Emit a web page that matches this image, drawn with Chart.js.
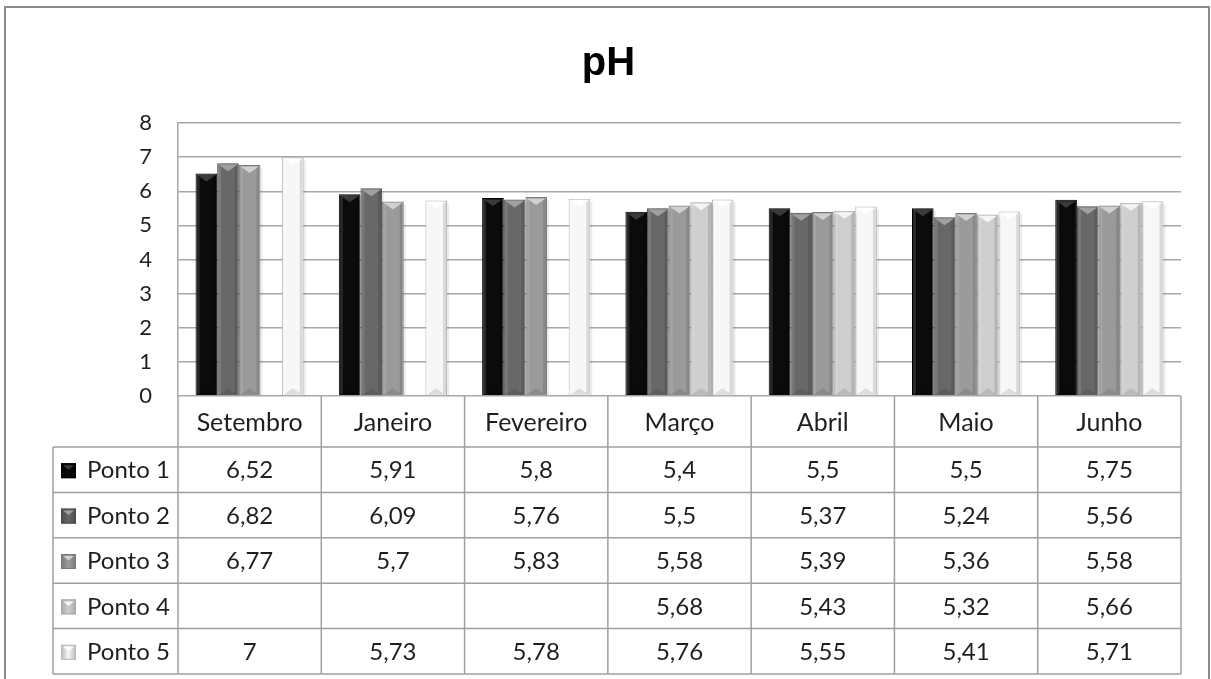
<!DOCTYPE html>
<html>
<head>
<meta charset="utf-8">
<script src="https://cdn.jsdelivr.net/npm/chart.js@4/dist/chart.umd.min.js"></script>
<style>
  html, body { margin: 0; padding: 0; background: #ffffff; }
  #wrap { position: relative; width: 1211px; height: 679px; }
</style>
</head>
<body>
<div id="wrap"><canvas id="c"></canvas></div>
<script>
// ---- data ----
const categories = ['Setembro', 'Janeiro', 'Fevereiro', 'Março', 'Abril', 'Maio', 'Junho'];
const seriesNames = ['Ponto 1', 'Ponto 2', 'Ponto 3', 'Ponto 4', 'Ponto 5'];
const ponto1 = [6.52, 5.91, 5.8, 5.4, 5.5, 5.5, 5.75];
const ponto2 = [6.82, 6.09, 5.76, 5.5, 5.37, 5.24, 5.56];
const ponto3 = [6.77, 5.7, 5.83, 5.58, 5.39, 5.36, 5.58];
const ponto4 = [null, null, null, 5.68, 5.43, 5.32, 5.66];
const ponto5 = [7, 5.73, 5.78, 5.76, 5.55, 5.41, 5.71];
const yTickValues = [0, 1, 2, 3, 4, 5, 6, 7, 8];
const titleText = 'pH';

// ---- styles ----
const fills   = ['#0b0b0b', '#686868', '#9a9a9a', '#cfcfcf', '#f7f7f7'];
const borders = ['#000000', '#4a4a4a', '#7a7a7a', '#a8a8a8', '#b8b8b8'];
const tris    = ['#3a3a3a', '#a0a0a0', '#d0d0d0', '#f4f4f4', '#ffffff'];
const textFont = 'Lato, "Open Sans", sans-serif';
const gridColor = '#a8a8a8';

const allSeries = [ponto1, ponto2, ponto3, ponto4, ponto5];

const fmt = v => (v === null || v === undefined) ? '' : String(v).replace('.', ',');

const chrome = {
  id: 'chrome',
  beforeDraw(chart) {
    const ctx = chart.ctx;
    ctx.save();
    ctx.fillStyle = '#ffffff';
    ctx.fillRect(0, 0, chart.width, chart.height);
    ctx.restore();
  },
  afterDatasetsDraw(chart) {
    const ctx = chart.ctx;
    ctx.save();
    chart.data.datasets.forEach((ds, di) => {
      const meta = chart.getDatasetMeta(di);
      meta.data.forEach((bar, i) => {
        if (ds.data[i] === null) return;
        const p = bar.getProps(['x', 'y', 'base', 'width'], true);
        const l = p.x - p.width / 2, r = p.x + p.width / 2;
        const t = p.y, b = p.base;
        ctx.fillStyle = 'rgba(255,255,255,0.12)';
        ctx.fillRect(l + 1, t + 1, 3, b - t - 2);
        ctx.fillStyle = 'rgba(0,0,0,0.12)';
        ctx.fillRect(r - 4, t + 1, 3, b - t - 2);
        ctx.fillStyle = tris[di];
        ctx.beginPath();
        ctx.moveTo(l + 1.5, t + 1.5);
        ctx.lineTo(r - 1.5, t + 1.5);
        ctx.lineTo(p.x, t + 8);
        ctx.closePath();
        ctx.fill();
        ctx.fillStyle = 'rgba(0,0,0,0.10)';
        ctx.beginPath();
        ctx.moveTo(l + 1.5, b - 0.5);
        ctx.lineTo(r - 1.5, b - 0.5);
        ctx.lineTo(p.x, b - 7);
        ctx.closePath();
        ctx.fill();
        ctx.fillStyle = 'rgba(0,0,0,0.08)';
        ctx.fillRect(r, t + 3, 2, b - t - 3);
      });
    });
    ctx.restore();
  },
  afterDraw(chart) {
    const ctx = chart.ctx;
    const area = chart.chartArea;
    const xs = chart.scales.x;
    const n = categories.length;
    const cw = (area.right - area.left) / n;
    const tableLeft = 53;
    const headTop = area.bottom;
    const headBottom = 447;
    const rowH = 45.4;
    const tableBottom = headBottom + rowH * seriesNames.length;

    ctx.save();
    ctx.strokeStyle = '#8a8a8a';
    ctx.lineWidth = 2;
    ctx.strokeRect(5, 7, 1204, 700);

    ctx.fillStyle = '#000000';
    ctx.font = 'bold 40px "Liberation Sans", Arial, sans-serif';
    ctx.textAlign = 'center';
    ctx.textBaseline = 'alphabetic';
    ctx.fillText(titleText, chart.width / 2 + 3, 75);

    ctx.strokeStyle = '#a0a0a0';
    ctx.lineWidth = 1.5;
    ctx.beginPath();
    for (let i = 0; i <= n; i++) {
      const x = area.left + i * cw;
      ctx.moveTo(x, headTop);
      ctx.lineTo(x, tableBottom);
    }
    ctx.moveTo(tableLeft, headBottom);
    ctx.lineTo(tableLeft, tableBottom);
    for (let r = 0; r <= seriesNames.length; r++) {
      const y = headBottom + r * rowH;
      ctx.moveTo(tableLeft, y);
      ctx.lineTo(area.right, y);
    }
    ctx.stroke();

    ctx.fillStyle = '#1f1f1f';
    ctx.font = '25px ' + textFont;
    ctx.textAlign = 'center';
    ctx.textBaseline = 'middle';
    categories.forEach((c, i) => {
      const cx = xs.getPixelForValue(i);
      ctx.fillText(c, cx, (headTop + headBottom) / 2 + 1);
    });

    ctx.font = '24px ' + textFont;
    seriesNames.forEach((name, r) => {
      const cy = headBottom + r * rowH + rowH / 2 + 1;
      const kx = 61, ks = 15;
      const g = ctx.createLinearGradient(kx, 0, kx + ks, 0);
      g.addColorStop(0, borders[r]);
      g.addColorStop(0.5, fills[r]);
      g.addColorStop(1, borders[r]);
      ctx.fillStyle = g;
      ctx.fillRect(kx, cy - ks / 2, ks, ks);
      ctx.strokeStyle = borders[r];
      ctx.lineWidth = 1;
      ctx.strokeRect(kx + 0.5, cy - ks / 2 + 0.5, ks - 1, ks - 1);
      ctx.fillStyle = tris[r];
      ctx.beginPath();
      ctx.moveTo(kx + 2, cy - ks / 2 + 2);
      ctx.lineTo(kx + ks - 2, cy - ks / 2 + 2);
      ctx.lineTo(kx + ks / 2, cy - 1);
      ctx.closePath();
      ctx.fill();

      ctx.fillStyle = '#1f1f1f';
      ctx.textAlign = 'left';
      ctx.fillText(name, 87, cy);
      ctx.textAlign = 'center';
      allSeries[r].forEach((v, i) => {
        ctx.fillText(fmt(v), xs.getPixelForValue(i), cy);
      });
    });
    ctx.restore();
  }
};

new Chart(document.getElementById('c'), {
  type: 'bar',
  data: {
    labels: categories,
    datasets: seriesNames.map((name, i) => ({
      label: name,
      data: allSeries[i],
      backgroundColor: fills[i],
      borderColor: borders[i],
      borderWidth: 1,
      barPercentage: 1.0,
      categoryPercentage: 0.755
    }))
  },
  options: {
    responsive: true,
    maintainAspectRatio: false,
    animation: false,
    layout: { padding: { top: 123, left: 0, right: 30, bottom: 283 } },
    plugins: {
      legend: { display: false },
      title: { display: false },
      tooltip: { enabled: false }
    },
    scales: {
      x: { display: false, offset: true },
      y: {
        min: 0,
        max: 8,
        afterBuildTicks: s => { s.ticks = yTickValues.map(v => ({ value: v })); },
        afterFit: s => { s.width = 178; },
        border: { display: true, color: gridColor, width: 1.5 },
        grid: { color: gridColor, lineWidth: 1.5, drawTicks: false },
        ticks: {
          padding: 26,
          color: '#1f1f1f',
          font: { family: 'Lato, "Open Sans", sans-serif', size: 22 }
        }
      }
    }
  },
  plugins: [chrome]
});
</script>
</body>
</html>
